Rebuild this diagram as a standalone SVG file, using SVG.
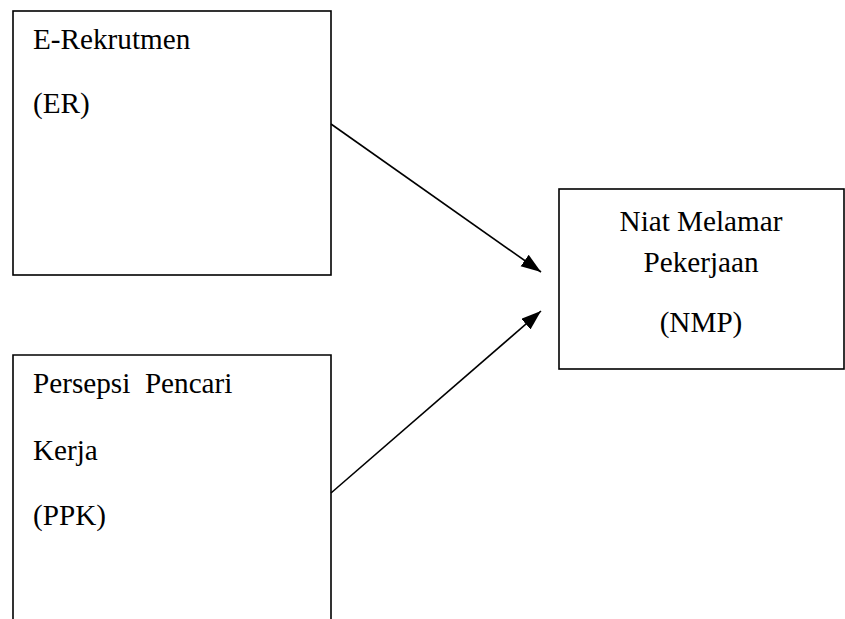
<svg xmlns="http://www.w3.org/2000/svg" width="845" height="619" viewBox="0 0 845 619">
<defs>
<style>
.box{fill:#fff;stroke:#000;stroke-width:1.6}
.t{font-family:"Liberation Serif","Times New Roman",serif;font-size:29.2px;fill:#000}
.c{text-anchor:middle}
.edge{stroke:#000;stroke-width:1.6;fill:none;marker-end:url(#ah)}
</style>
<marker id="ah" markerUnits="userSpaceOnUse" markerWidth="22" markerHeight="16" refX="20" refY="7" orient="auto">
<path d="M0,0 L20,7 L0,14 z" fill="#000"/>
</marker>
</defs>
<g id="er">
<rect class="box" x="13" y="11" width="318" height="264"/>
<text class="t" x="33" y="49">E-Rekrutmen</text>
<text class="t" x="33" y="113">(ER)</text>
</g>
<g id="ppk">
<path class="box" d="M13,625 L13,355 L331,355 L331,625"/>
<text class="t" x="33" y="393" xml:space="preserve">Persepsi  Pencari</text>
<text class="t" x="33" y="460">Kerja</text>
<text class="t" x="33" y="525">(PPK)</text>
</g>
<g id="nmp">
<rect class="box" x="559" y="189" width="285" height="180"/>
<text class="t c" x="701" y="231">Niat Melamar</text>
<text class="t c" x="701" y="272">Pekerjaan</text>
<text class="t c" x="701" y="332">(NMP)</text>
</g>
<g id="connectors">
<line class="edge" x1="331" y1="124" x2="541" y2="272"/>
<line class="edge" x1="331" y1="493" x2="541" y2="311"/>
</g>
</svg>
